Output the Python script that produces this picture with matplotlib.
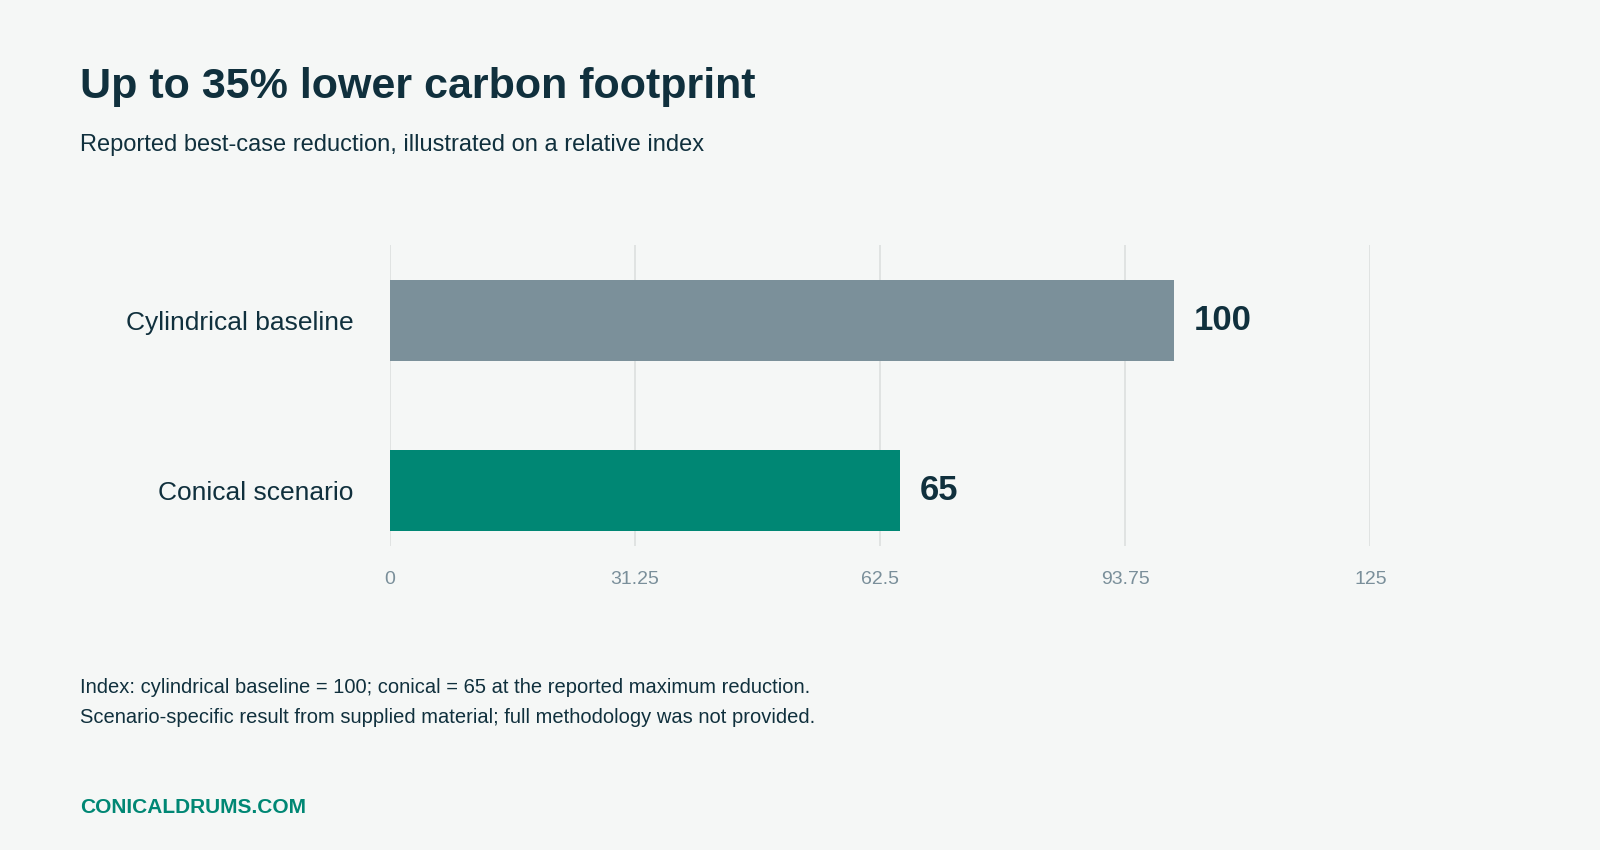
import matplotlib
matplotlib.use("Agg")
import matplotlib.pyplot as plt

categories = ["Conical scenario", "Cylindrical baseline"]
values = [65, 100]
colors = ["#008774", "#7b909a"]
ticks = [0, 31.25, 62.5, 93.75, 125]
tick_labels = ["0", "31.25", "62.5", "93.75", "125"]

plt.rcParams['font.family'] = ['Liberation Sans', 'DejaVu Sans']
bg = "#f5f7f6"
dark = "#10303d"
fig = plt.figure(figsize=(16, 8.5), dpi=100, facecolor=bg)
ax = fig.add_axes([0.2436, 0.358, 0.6129, 0.354], facecolor=bg)
y = list(range(len(categories)))
ax.barh(y, values, height=0.473, color=colors, zorder=3)
ax.set_xlim(0, 125)
ax.set_ylim(-0.323, 1.443)
ax.set_xticks(ticks)
ax.set_xticklabels(tick_labels, fontsize=14, color="#7a8f9a")
ax.set_yticks(y)
ax.set_yticklabels(categories, fontsize=19, color=dark)
ax.tick_params(axis='both', length=0)
ax.tick_params(axis='x', pad=18)
ax.tick_params(axis='y', pad=26)
ax.grid(axis='x', color="#dcdfde", linewidth=1.2, zorder=0)
for s in ax.spines.values():
    s.set_visible(False)
for yi, v in zip(y, values):
    ax.text(v + 2.5, yi, str(v), va='center', ha='left', fontsize=25,
            fontweight='bold', color=dark)

fig.text(0.05, 0.898, "Up to 35% lower carbon footprint", fontsize=31,
         fontweight='bold', color=dark, va='center')
fig.text(0.05, 0.830, "Reported best-case reduction, illustrated on a relative index",
         fontsize=17, color=dark, va='center')
fig.text(0.05, 0.191, "Index: cylindrical baseline = 100; conical = 65 at the reported maximum reduction.",
         fontsize=14.5, color=dark, va='center')
fig.text(0.05, 0.156, "Scenario-specific result from supplied material; full methodology was not provided.",
         fontsize=14.5, color=dark, va='center')
fig.text(0.05, 0.050, "CONICALDRUMS.COM", fontsize=15, fontweight='bold',
         color="#008774", va='center')
fig.savefig("out.png", facecolor=bg)
